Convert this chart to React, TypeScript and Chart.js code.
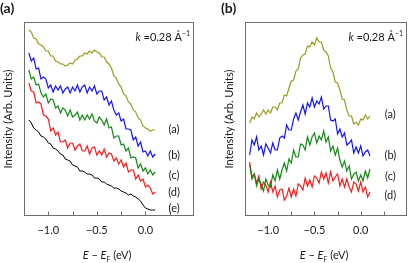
import React, { useEffect, useRef } from 'react';
import { Chart, registerables } from 'chart.js';

Chart.register(...registerables);

// Energy grid (eV), shared by all curves
const energies = [
  -1.2, -1.175, -1.15, -1.125, -1.1, -1.075, -1.05, -1.025, -1.0, -0.975,
  -0.95, -0.925, -0.9, -0.875, -0.85, -0.825, -0.8, -0.775, -0.75, -0.725,
  -0.7, -0.675, -0.65, -0.625, -0.6, -0.575, -0.55, -0.525, -0.5, -0.475,
  -0.45, -0.425, -0.4, -0.375, -0.35, -0.325, -0.3, -0.275, -0.25, -0.225,
  -0.2, -0.175, -0.15, -0.125, -0.1, -0.075, -0.05, -0.025, 0, 0.025,
  0.05, 0.075, 0.1,
];

// Panel (a) curves (arb. units, offset)
const panelA_a = [
  186, 184, 178, 177, 172, 171, 169, 165, 165, 160,
  160, 155, 154, 152, 152, 150, 151, 153, 152, 156,
  157, 160, 160, 163, 162, 165, 163, 166, 164, 163,
  159, 159, 154, 152, 148, 140, 138, 132, 129, 122,
  120, 114, 112, 106, 104, 98, 96, 90, 88, 87,
  85, 86, 86,
];
const panelA_b = [
  163, 155, 158, 147, 148, 137, 139, 137, 128, 131,
  124, 130, 126, 130, 123, 127, 129, 123, 129, 125,
  131, 124, 129, 131, 123, 129, 125, 130, 122, 125,
  125, 116, 119, 111, 115, 106, 101, 103, 95, 97,
  87, 87, 86, 76, 79, 70, 74, 64, 65, 60,
  65, 59, 62,
];
const panelA_c = [
  146, 137, 139, 131, 132, 123, 119, 122, 113, 117,
  116, 108, 110, 103, 108, 106, 100, 106, 99, 101,
  104, 96, 101, 96, 101, 97, 102, 95, 93, 99,
  96, 91, 97, 88, 89, 78, 80, 80, 71, 72,
  65, 68, 58, 59, 58, 48, 52, 45, 48, 42,
  46, 41, 44,
];
const panelA_d = [
  133, 125, 124, 113, 114, 112, 101, 100, 97, 85,
  88, 81, 84, 74, 74, 76, 68, 73, 73, 66,
  70, 72, 65, 65, 70, 62, 68, 69, 61, 65,
  61, 67, 59, 63, 62, 55, 58, 52, 56, 49,
  53, 44, 46, 46, 37, 41, 35, 37, 29, 31,
  28, 22, 24,
];
const panelA_e = [
  96, 93, 88, 86, 84, 80, 79, 77, 73, 72,
  68, 67, 65, 62, 61, 57, 56, 55, 51, 50,
  49, 45, 45, 44, 42, 42, 41, 38, 38, 37,
  34, 34, 32, 31, 30, 28, 28, 27, 25, 24,
  23, 21, 22, 20, 19, 17, 15, 11, 8, 7,
  6, 6, 6,
];

// Panel (b) curves
const panelB_a = [
  93, 99, 97, 103, 99, 102, 106, 102, 106, 103,
  109, 109, 106, 113, 113, 121, 120, 128, 135, 136,
  145, 147, 158, 161, 162, 170, 169, 174, 171, 178,
  174, 174, 166, 164, 160, 148, 144, 134, 133, 126,
  117, 116, 106, 100, 100, 92, 94, 91, 97, 96,
  101, 97, 100,
];
const panelB_b = [
  61, 76, 71, 79, 66, 70, 61, 72, 68, 63,
  73, 66, 66, 78, 80, 78, 91, 86, 86, 97,
  103, 96, 104, 111, 102, 113, 109, 118, 109, 115,
  112, 119, 107, 110, 110, 96, 95, 97, 82, 87,
  79, 83, 71, 73, 76, 63, 69, 63, 70, 60,
  64, 66, 60,
];
const panelB_c = [
  51, 37, 42, 30, 37, 32, 25, 37, 31, 29,
  41, 35, 46, 37, 46, 53, 45, 57, 53, 66,
  59, 59, 72, 71, 66, 79, 71, 79, 83, 73,
  80, 76, 85, 74, 79, 65, 70, 61, 68, 56,
  49, 55, 45, 50, 37, 42, 44, 35, 41, 35,
  45, 38, 47,
];
const panelB_d = [
  54, 39, 42, 33, 40, 27, 34, 31, 24, 34,
  24, 30, 19, 26, 27, 16, 20, 28, 19, 27,
  20, 32, 30, 26, 38, 30, 36, 29, 40, 38,
  33, 44, 37, 43, 33, 44, 35, 39, 42, 30,
  37, 29, 37, 29, 24, 34, 32, 25, 34, 24,
  29, 19, 24,
];

const curveNames = ['(a)', '(b)', '(c)', '(d)', '(e)'];
const labelValuesA = [87, 61, 41, 24, 8];
const labelValuesB = [102, 61, 40, 21];
const labelEnergyA = 0.295;
const labelEnergyB = 0.32;

const tickLabelValues = [-1.0, -0.5, 0.0];

const FONT = 'Lato, "Open Sans", sans-serif';
const TEXT = '#1a1a1a';
const COLORS = ['#9c9c1c', '#1414ff', '#138a13', '#ff1a1a', '#000000'];
const WIDTHS = [1.2, 1.2, 1.2, 1.2, 1];

function overlayPlugin(panelName: string, labelValues: number[], labelEnergy: number) {
  return {
    id: 'overlay',
    afterDraw(chart: any) {
      const { ctx, chartArea: ca, scales } = chart;
      const xs = scales.x;
      const ys = scales.y;
      ctx.save();
      // frame
      ctx.strokeStyle = '#6e6e6e';
      ctx.lineWidth = 1;
      const l = Math.round(ca.left) + 0.5;
      const t = Math.round(ca.top) + 0.5;
      const r = Math.round(ca.right) - 0.5;
      const b = Math.round(ca.bottom) - 0.5;
      ctx.strokeRect(l, t, r - l, b - t);
      // inward ticks
      ctx.beginPath();
      xs.ticks.forEach((tk: any) => {
        if (tk.value <= xs.min + 1e-6 || tk.value >= xs.max - 1e-6) return;
        const px = Math.round(xs.getPixelForValue(tk.value)) + 0.5;
        ctx.moveTo(px, b);
        ctx.lineTo(px, b - 4);
      });
      ctx.stroke();

      ctx.fillStyle = TEXT;
      ctx.textBaseline = 'alphabetic';

      // x-axis title with italic E and subscript F
      const parts = [
        { t: 'E', f: `italic 11px ${FONT}`, dy: 0 },
        { t: ' \u2212 ', f: `11px ${FONT}`, dy: 0 },
        { t: 'E', f: `italic 11px ${FONT}`, dy: 0 },
        { t: 'F', f: `7px ${FONT}`, dy: 2.5 },
        { t: ' (eV)', f: `11px ${FONT}`, dy: 0 },
      ];
      let total = 0;
      parts.forEach((p) => { ctx.font = p.f; total += ctx.measureText(p.t).width; });
      let x = (ca.left + ca.right) / 2 - 2 - total / 2;
      ctx.textAlign = 'left';
      parts.forEach((p) => {
        ctx.font = p.f;
        ctx.fillText(p.t, x, 259 + p.dy);
        x += ctx.measureText(p.t).width;
      });

      // k label with superscript
      const kParts = [
        { t: 'k', f: `italic 11px ${FONT}`, dy: 0 },
        { t: ' =0.28 \u00C5', f: `11px ${FONT}`, dy: 0 },
        { t: '\u22121', f: `7px ${FONT}`, dy: -5 },
      ];
      let kw = 0;
      kParts.forEach((p) => { ctx.font = p.f; kw += ctx.measureText(p.t).width; });
      let kx = ca.right - 4 - kw;
      kParts.forEach((p) => {
        ctx.font = p.f;
        ctx.fillText(p.t, kx, 41 + p.dy);
        kx += ctx.measureText(p.t).width;
      });

      // curve labels
      ctx.font = `11px ${FONT}`;
      ctx.textAlign = 'center';
      ctx.textBaseline = 'middle';
      labelValues.forEach((v, i) => {
        ctx.fillText(curveNames[i], xs.getPixelForValue(labelEnergy), ys.getPixelForValue(v));
      });

      // panel label
      ctx.font = `bold 14px ${FONT}`;
      ctx.textAlign = 'left';
      ctx.textBaseline = 'alphabetic';
      ctx.fillText(panelName, 0, 13);
      ctx.restore();
    },
  };
}

function buildConfig(series: number[][], padRight: number, plugin: any) {
  return {
    type: 'line' as const,
    data: {
      datasets: series.map((s, i) => ({
        data: energies.map((e, j) => ({ x: e, y: s[j] })),
        borderColor: COLORS[i],
        borderWidth: WIDTHS[i],
        pointRadius: 0,
        tension: 0,
        fill: false,
      })),
    },
    options: {
      animation: false,
      responsive: false,
      maintainAspectRatio: false,
      layout: { padding: { left: 0, right: padRight, top: 22, bottom: 0 } },
      plugins: { legend: { display: false }, tooltip: { enabled: false } },
      scales: {
        x: {
          type: 'linear',
          min: -1.25,
          max: 0.5,
          afterFit: (s: any) => { s.height = 47; },
          grid: { display: false, drawTicks: false },
          border: { display: false },
          ticks: {
            stepSize: 0.25,
            autoSkip: false,
            maxRotation: 0,
            padding: 8,
            color: TEXT,
            font: { family: FONT, size: 11 },
            callback: (v: number) => {
              const hit = tickLabelValues.find((tv) => Math.abs(tv - v) < 1e-6);
              if (hit === undefined) return '';
              return hit === 0 ? '0.0' : '\u2212' + Math.abs(hit).toFixed(1);
            },
          },
        },
        y: {
          min: 0,
          max: 194,
          afterFit: (s: any) => { s.width = 24; },
          grid: { display: false, drawTicks: false },
          border: { display: false },
          ticks: { display: false },
          title: {
            display: true,
            text: 'Intensity (Arb. Units)',
            color: TEXT,
            font: { family: FONT, size: 11 },
            padding: { top: 2, bottom: 0 },
          },
        },
      },
    },
    plugins: [plugin],
  };
}

function Panel({ series, width, padRight, name, labelValues, labelEnergy, left }: any) {
  const ref = useRef<HTMLCanvasElement>(null);
  useEffect(() => {
    if (!ref.current) return;
    const chart = new Chart(ref.current, buildConfig(series, padRight, overlayPlugin(name, labelValues, labelEnergy)) as any);
    return () => chart.destroy();
  }, []);
  return (
    <canvas
      ref={ref}
      width={width}
      height={263}
      style={{ position: 'absolute', left, top: 0, width, height: 263, display: 'block' }}
    />
  );
}

export default function App() {
  return (
    <div style={{ position: 'fixed', left: 0, top: 0, width: 415, height: 263, background: '#fff' }}>
      <Panel
        series={[panelA_a, panelA_b, panelA_c, panelA_d, panelA_e]}
        width={221}
        padRight={27}
        name="(a)"
        labelValues={labelValuesA}
        labelEnergy={labelEnergyA}
        left={0}
      />
      <Panel
        series={[panelB_a, panelB_b, panelB_c, panelB_d]}
        width={194}
        padRight={1}
        name="(b)"
        labelValues={labelValuesB}
        labelEnergy={labelEnergyB}
        left={221}
      />
    </div>
  );
}
